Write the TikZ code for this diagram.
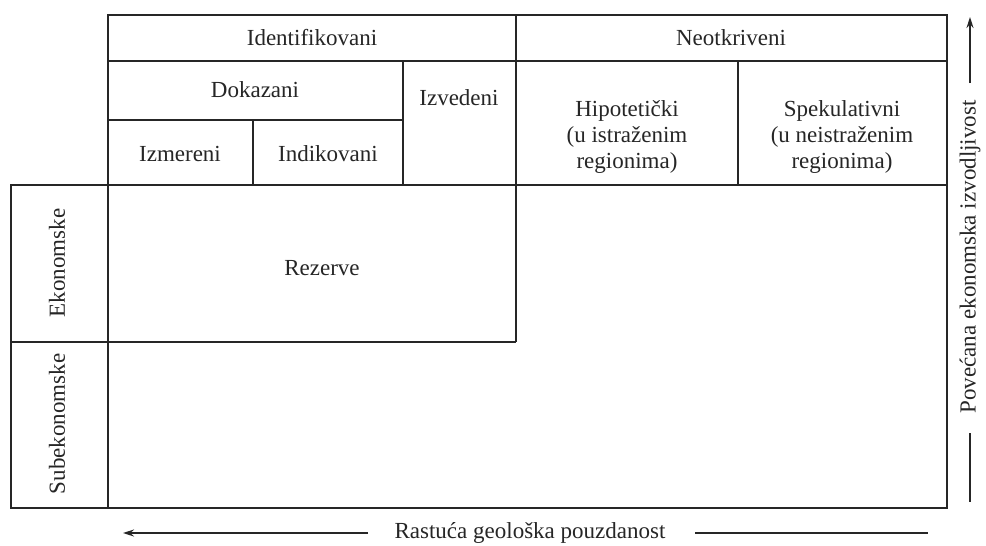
\documentclass[tikz,border=0pt]{standalone}
\usepackage{fontspec}
\setmainfont{Liberation Serif}
\usetikzlibrary{arrows.meta}
\begin{document}
\begin{tikzpicture}[x=1pt,y=-1pt,
  grid/.style={draw=black!85, line width=1.8pt},
  txt/.style={font=\fontsize{23}{26}\selectfont, text=black!85, inner sep=0pt, align=center},
  axis/.style={draw=black!85, line width=1.6pt},
  arr/.style={axis, -{Stealth[length=11pt,width=7pt]}}]
\useasboundingbox[fill=white] (0,0) rectangle (986,546);
% header
\draw[grid] (108,15) rectangle (947,185);
\draw[grid] (108,61) -- (947,61);
\draw[grid] (516,15) -- (516,185);
\draw[grid] (403,61) -- (403,185);
\draw[grid] (108,120) -- (403,120);
\draw[grid] (253,120) -- (253,185);
\draw[grid] (738,61) -- (738,185);
% lower table
\draw[grid] (11,185) rectangle (947,508);
\draw[grid] (108,185) -- (108,508);
\draw[grid] (11,342) -- (516,342);
\draw[grid] (516,185) -- (516,342);
% texts
\node[txt] (ident) at (312,38) {Identifikovani};
\node[txt] (neot) at (731,38) {Neotkriveni};
\node[txt] (dok) at (255,90) {Dokazani};
\node[txt] (izv) at (459,98) {Izvedeni};
\node[txt] (izm) at (180,154) {Izmereni};
\node[txt] (ind) at (328,154) {Indikovani};
\node[txt] (hip) at (627,137) {Hipotetički\\(u istraženim\\regionima)};
\node[txt] (spek) at (842,137) {Spekulativni\\(u neistraženim\\regionima)};
\node[txt, rotate=90] (ekon) at (57,263) {Ekonomske};
\node[txt, rotate=90] (subek) at (57,424) {Subekonomske};
\node[txt] (rez) at (322,268) {Rezerve};
\node[txt] (geo) at (530,533) {Rastuća geološka pouzdanost};
\node[txt, rotate=90] (ekiz) at (970,257) {Povećana ekonomska izvodljivost};
% axes
\coordinate (geoLs) at (368,533);
\coordinate (geoL) at (123,533);
\coordinate (geoRs) at (695,533);
\coordinate (geoR) at (928,533);
\coordinate (ekTs) at (970,83);
\coordinate (ekT) at (970,17);
\coordinate (ekBs) at (970,433);
\coordinate (ekB) at (970,502);
\draw[arr] (geoLs) -- (geoL);
\draw[axis] (geoRs) -- (geoR);
\draw[arr] (ekTs) -- (ekT);
\draw[axis] (ekBs) -- (ekB);
\end{tikzpicture}
\end{document}
